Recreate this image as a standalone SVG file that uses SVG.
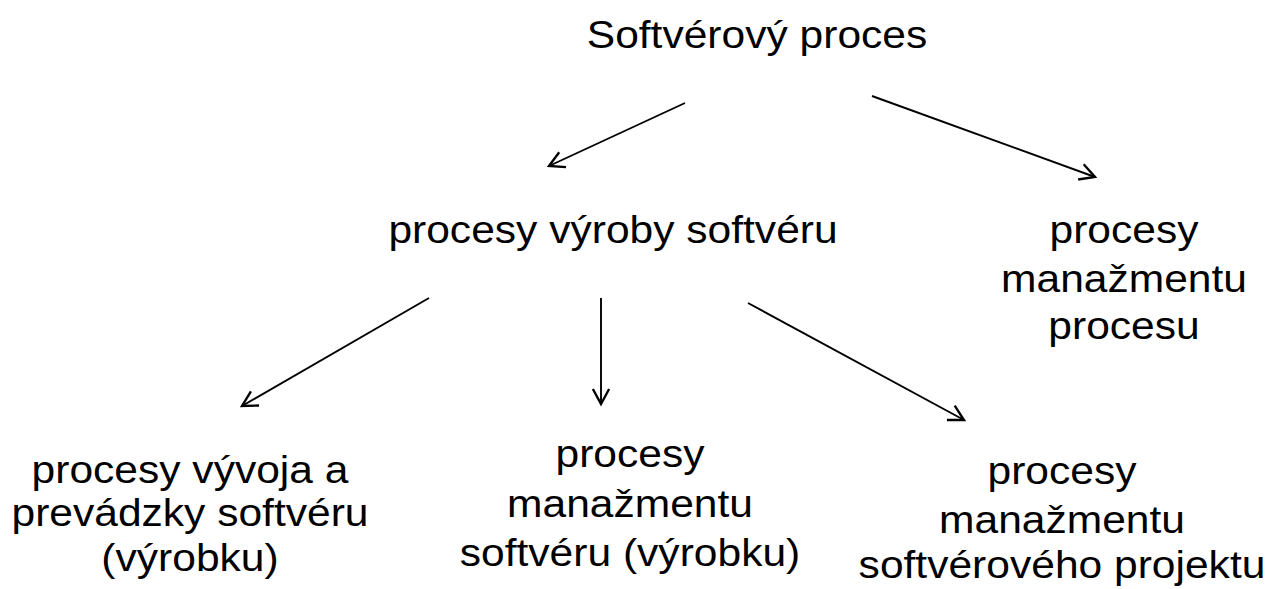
<svg xmlns="http://www.w3.org/2000/svg" width="1275" height="589" viewBox="0 0 1275 589">
<style>
  text { font-family: "Liberation Sans", Arial, sans-serif; font-size: 38px; fill: #000; text-anchor: middle; }
  .conn line { stroke: #000; stroke-width: 1.9; fill: none; marker-end: url(#arrow); }
</style>
<defs>
  <marker id="arrow" markerUnits="userSpaceOnUse" markerWidth="20" markerHeight="20" viewBox="-14 -8 16 16" refX="0" refY="0" orient="auto">
    <path d="M -12,-6.5 L 0,0 L -12,6.5" fill="none" stroke="#000" stroke-width="1.9"/>
  </marker>
</defs>
<rect width="1275" height="589" fill="#fff"/>
<g id="n-root" transform="translate(757,0) scale(1.12,1)">
  <text x="0" y="48">Softvérový proces</text>
</g>
<g id="n-vyroba" transform="translate(613,0) scale(1.12,1)">
  <text x="0" y="243">procesy výroby softvéru</text>
</g>
<g id="n-manaz-procesu" transform="translate(1124,0) scale(1.12,1)">
  <text x="0" y="243">procesy<tspan x="0" y="292">manažmentu</tspan><tspan x="0" y="339">procesu</tspan></text>
</g>
<g id="n-vyvoj" transform="translate(190,0) scale(1.12,1)">
  <text x="0" y="483">procesy vývoja a<tspan x="0" y="526">prevádzky softvéru</tspan><tspan x="0" y="571">(výrobku)</tspan></text>
</g>
<g id="n-manaz-softveru" transform="translate(630,0) scale(1.12,1)">
  <text x="0" y="467">procesy<tspan x="0" y="517">manažmentu</tspan><tspan x="0" y="566">softvéru (výrobku)</tspan></text>
</g>
<g id="n-manaz-projektu" transform="translate(1062,0) scale(1.12,1)">
  <text x="0" y="484">procesy<tspan x="0" y="533">manažmentu</tspan><tspan x="0" y="578">softvérového projektu</tspan></text>
</g>
<g id="connectors" class="conn">
  <line x1="685" y1="103" x2="549" y2="166"/>
  <line x1="872" y1="96" x2="1095" y2="177"/>
  <line x1="429" y1="298" x2="242" y2="406"/>
  <line x1="601" y1="298" x2="601" y2="404"/>
  <line x1="748" y1="303" x2="964" y2="420"/>
</g>
</svg>
